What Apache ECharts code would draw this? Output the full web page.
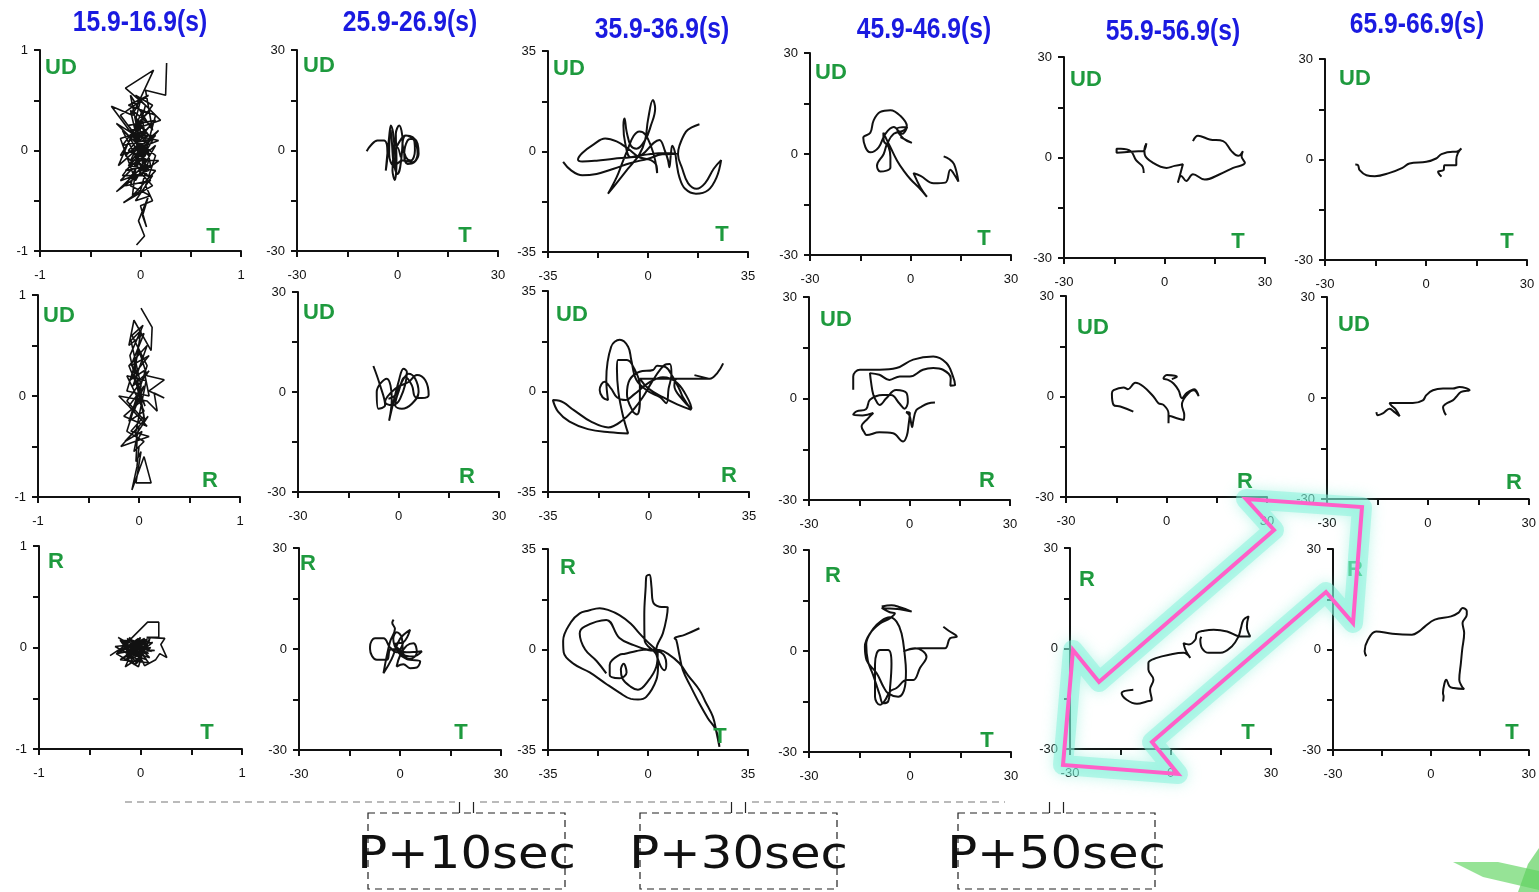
<!DOCTYPE html>
<html><head><meta charset="utf-8">
<script src="https://cdn.jsdelivr.net/npm/echarts@6/dist/echarts.min.js"></script>
<style>html,body{margin:0;padding:0;background:#fff;}#c{width:1539px;height:892px;}</style>
</head><body><div id="c"></div>
<script>
// ---------- DATA ----------
const titles = ['15.9-16.9(s)','25.9-26.9(s)','35.9-36.9(s)','45.9-46.9(s)','55.9-56.9(s)','65.9-66.9(s)'];
const axisRanges = [1,30,35,30,30,30];
const rowAxisNames = [['UD','T'],['UD','R'],['R','T']];
const markerTexts = ['P+10sec','P+30sec','P+50sec'];

// Row 1: T (x) vs UD (y)
const r1c1 = [[0.26,0.87],[0.25,0.55],[0.05,0.6],[0.12,0.2],[-0.1,0.55],[0.0,0.05],[-0.29,0.44],[-0.08,0.35],[0.13,0.8],[-0.15,0.62],[0.05,0.45],[-0.05,0.1],[0.15,0.3],[-0.12,0.25],[0.08,-0.05],[-0.24,0.27],[-0.05,0.15],[0.18,0.1],[-0.2,-0.05],[0.02,0.3],[0.1,-0.15],[-0.15,-0.2],[0.15,0.05],[-0.05,-0.3],[-0.2,0.12],[0.05,0.2],[-0.1,-0.1],[0.18,-0.1],[-0.24,-0.41],[-0.02,-0.2],[0.12,-0.35],[-0.17,-0.52],[0.0,-0.4],[0.08,-0.1],[-0.12,0.0],[0.1,0.25],[-0.08,0.4],[0.05,0.05],[-0.18,-0.25],[0.12,-0.25],[-0.05,-0.5],[0.1,-0.45],[-0.1,-0.35],[0.0,0.0],[0.15,0.15],[-0.12,0.15],[0.05,-0.15],[-0.05,0.25],[0.1,0.4],[0.0,0.5],[-0.05,0.3],[0.08,0.15],[-0.15,-0.05],[0.0,-0.2],[0.15,0.35],[-0.12,0.45],[0.08,0.55],[-0.2,0.35],[0.1,-0.05],[-0.18,0.2],[0.05,-0.25],[-0.1,0.4],[0.12,0.1],[-0.15,-0.35],[0.1,-0.3],[-0.05,-0.05],[0.18,0.2],[-0.22,-0.15],[0.02,0.4],[-0.08,-0.45],[0.15,-0.2],[-0.12,-0.15],[0.05,0.1],[-0.18,0.05],[0.12,0.45],[-0.05,0.55],[0.2,0.3],[-0.1,0.2],[0.08,-0.2],[-0.2,-0.3],[0.05,-0.05],[-0.08,0.15],[0.15,-0.05],[0.05,-0.35],[0.12,-0.5],[0.0,-0.55],[0.06,-0.76],[0.02,-0.65],[0.08,-0.45],[-0.02,-0.7],[0.04,-0.85],[-0.04,-0.94]];
const r1c2 = [[-9.2,-0.2],[-8,1.5],[-6,3],[-4,3],[-3,-1],[-3.5,-6],[-2.5,4],[-2,7.5],[-1,2],[-1.5,-6],[-0.8,-8.8],[-0.3,-3],[-0.5,5],[0.5,7.5],[1.5,3],[0.8,-5],[0,-7],[-1.2,-2],[0.8,3],[2.5,4.5],[4.5,4],[6,2],[6.3,-1],[5,-3.5],[3,-4],[2,-1],[3,3],[4.5,3.5],[5.2,0],[4,-3],[2.5,-2],[1.5,2],[2.5,4.5],[5,3],[6,-1],[4.5,-3.5],[1.5,-3],[-1,-4.5],[-2.5,-1],[-2,6],[-1,-5],[0,1],[1,-2]];
const r1c3 = [[-29.7,-3.6],[-27,-6.5],[-23,-8.3],[-18,-7.8],[-12,-6],[-6,-4],[0,-2.5],[5,-1],[10,-0.8],[6,-0.5],[0,-1],[-6,-2],[-12,-2.5],[-18,-3.2],[-23,-3.5],[-24.5,-2.8],[-23,-0.5],[-19,2.5],[-15,4.5],[-11,3.5],[-7,1],[-3,-2],[1,-3],[3,-5],[3.2,-7.5],[2.5,-3],[1,2],[-1,6],[-3,7],[-5,5.5],[-7,1],[-9,-4],[-11,-9],[-14,-14.7],[-11,-11],[-7,-6],[-3,-1],[-1,4],[0,11],[1.7,17.9],[2.5,15],[1,9],[-1,4],[-4,1],[-6,2],[-7.5,7],[-8.2,11.5],[-8.6,9],[-8,3],[-6,-2],[-2,-1],[2,3],[4,4],[6,0],[7,-3],[7.5,-5.5],[8,-1],[8.5,2],[9.5,-0.5],[10,-4],[11,-9],[13,-13],[16.8,-14.7],[21,-13.5],[24,-9],[25.6,-3],[23,-6],[20,-11],[17,-13],[14,-11],[12,-6],[10.5,-1],[11,2],[13.3,6.9],[15.5,8.5],[18,9.5]];
const r1c4 = [[-3,5],[0.4,3.3],[-2,4.5],[-4,7.5],[-1,8],[-2.5,6],[-5,8],[-7.5,6],[-9.5,2],[-12,0.5],[-14.1,4.8],[-12,6.3],[-11,10],[-9,12.5],[-6,13],[-3,11.3],[-1.1,8.3],[-2,7],[-5,6],[-7,3],[-8,0],[-10,-3.5],[-9,-5.2],[-6,-4],[-6,-1],[-6.5,2],[-8,4],[-8.1,6.3],[-6,2],[-4,-2],[-2,-5],[0,-7.5],[2.5,-10],[4.9,-12.7],[3,-10],[0.9,-5.7],[3,-6.5],[6.9,-8.7],[10.4,-8.5],[11.9,-4.7],[13,-6],[14.3,-8.2],[13,-3],[11.5,-1.5],[9.9,-0.7]];
const r1c5 = [[-6.2,-4.6],[-6.5,-2.8],[-8.5,-0.8],[-10,1.8],[-13,2.6],[-14.3,2.6],[-14.3,1.4],[-12,1.6],[-9,1.8],[-6.4,1.9],[-5.4,4.2],[-6,2.5],[-5.9,0.9],[-3.4,-1.6],[0.6,-3.1],[3,-2.5],[5.5,-2],[4,-7.5],[5,-5.5],[6.5,-7],[8.5,-5],[12,-6.6],[16.5,-5],[20.5,-3.1],[24,-1.6],[23,0.4],[23.4,1.9],[22,0.5],[20,1.9],[17.5,4.9],[13.5,5.4],[10,6.5],[8.5,4.9]];
const r1c6 = [[-21,-1.5],[-20.2,-1.7],[-19.7,-3.2],[-17.7,-4.7],[-15.2,-5],[-10.8,-4],[-7,-2.5],[-4.9,-1.2],[0.1,-0.7],[3,0.3],[4.6,1.6],[8,2.3],[9,2.3],[10.5,3.3],[9.5,2],[9,0],[9,-1.7],[7,-1.7],[5.5,-1.7],[5.2,-3.2],[3.6,-3.7],[4.6,-5.1]];

// Row 2: R (x) vs UD (y)
const r2c1 = [[0.02,0.87],[0.13,0.68],[0.12,0.45],[-0.05,0.75],[-0.1,0.5],[0.05,0.62],[-0.08,0.3],[0.1,0.4],[-0.1,0.15],[0.05,0.25],[0.1,0.0],[-0.12,0.05],[0.0,0.45],[0.08,0.2],[0.25,0.16],[0.1,0.05],[0.25,-0.02],[0.15,0.03],[0.18,-0.15],[0.08,-0.05],[-0.2,0.0],[-0.05,-0.15],[0.05,0.1],[-0.1,-0.1],[0.08,-0.3],[-0.15,-0.2],[0.02,-0.05],[-0.05,0.35],[0.05,-0.2],[-0.08,-0.35],[0.1,-0.4],[-0.18,-0.5],[0.0,-0.3],[-0.05,-0.55],[0.05,-0.45],[-0.12,-0.35],[0.02,0.1],[-0.08,0.55],[0.02,0.65],[-0.05,0.2],[0.06,-0.1],[-0.1,0.3],[0.08,0.5],[-0.06,0.1],[0.1,0.25],[-0.12,-0.05],[0.06,-0.25],[-0.09,0.4],[0.04,0.7],[-0.07,0.6],[0.08,0.3],[-0.1,-0.25],[0.05,-0.15],[-0.12,0.2],[0.07,0.15],[-0.04,-0.4],[0.09,-0.2],[-0.14,-0.45],[0.03,-0.35],[-0.02,-0.45],[-0.03,-0.65],[0.02,-0.55],[-0.03,-0.86],[0.12,-0.86],[0.05,-0.6],[-0.07,-0.93],[-0.02,-0.7],[0.0,-0.5]];
const r2c2 = [[-7.5,7.8],[-5.5,2],[-4,-4],[-6,-5],[-6.5,0],[-3.5,4],[-2,-2],[-2.8,-8.6],[-1.5,-3],[0,3],[1.5,7],[2.5,6],[0.5,-2],[-2,-4],[-4,-3],[-1,1],[3,3],[5.5,5.1],[8,3.5],[9,-0.9],[7,-1.8],[5,-1.5],[4,2],[2,4.5],[0,0],[-1,-4],[1,-5],[4,-3.5],[6,0],[5,4],[3,5.5],[1,3],[-1,-1],[-3,-2]];
const r2c3 = [[16,5.7],[21.3,4.4],[12,4.4],[4,4.4],[-3,4.4],[0,1],[5,-2],[10,-4.5],[14.9,-6.4],[12,-2],[10.9,0.5],[8.5,5],[6,8.5],[3,9],[1.6,7.5],[-3.1,6.9],[-6.6,4],[-7.5,-1],[-5.4,-7],[-4,-8],[-3,-3],[-3,2],[-5,8],[-7.5,11],[-10.6,11],[-11,8],[-10.5,0],[-9,-8],[-7.1,-14.6],[-13.5,-14.2],[-21.1,-13.1],[-27.5,-10.5],[-31.5,-7],[-33.3,-3],[-31,-3.2],[-26,-6.5],[-20,-10.5],[-14,-12.5],[-9,-10],[-5,-6],[-2,-2],[1,3],[4,7.5],[6.2,9.5],[7.4,9.6],[8,6],[7,1],[6.2,-4.1],[4,-2],[0,0],[-4.2,4],[-6,11],[-7.1,15.6],[-10,18],[-13,15.6],[-14.7,4],[-14.1,-3],[-16,-2],[-17,0.5],[-15.3,3.4],[-13,1],[-11,-2],[-8,-3],[-5,-1],[0,3],[5,5],[10,3],[14,-3],[15,-6],[12,-3],[9,2],[10,4.4],[18,4.4],[21.3,4.4],[24,6.5],[26,9.8]];
const r2c4 = [[-16.8,2.6],[-16.8,6.5],[-14.8,8.5],[-8.9,8.5],[-3.9,9],[1.1,11.5],[7.1,12.4],[11,10.5],[13,6.5],[13.6,4],[12.2,3.8],[12.3,6],[10,8.5],[7.1,9],[4,8.5],[0.1,6.5],[-2.9,6.5],[-6,5.5],[-9,7],[-11.8,7.5],[-11.5,5],[-10.8,1.1],[-9.5,-1.5],[-8.9,-1.9],[-7,0],[-4,2.5],[-0.9,1.6],[-0.5,-1],[-1.5,-3],[-3,-1.5],[-5.5,1],[-8,1],[-11.8,-0.4],[-13,-3.2],[-15.8,-3.8],[-16.8,-4.8],[-14,-5],[-10.8,-4.3],[-12.5,-6],[-14.3,-8.3],[-13.5,-10],[-12.8,-10.8],[-9,-10],[-4.9,-10.3],[-1.9,-12.7],[-0.8,-11],[-0.3,-8],[0.1,-4.3],[-1,-4],[0,-5],[0.8,-8.5],[1.1,-6.8],[2,-3.5],[3.6,-2.4],[5.5,-1.5],[7.6,-1.2]];
const r2c5 = [[-9.9,-4.5],[-13.8,-3],[-15.8,-2.5],[-16.3,0.9],[-15.8,1.9],[-12.8,2.7],[-11.5,2.2],[-9.3,4.1],[-6.9,3],[-3.9,0],[-2.4,-2],[-0.9,-2.5],[0.6,-5],[0.6,-8],[1,-5.8],[3.1,-6.5],[5.1,-7],[5.3,-5.5],[4.6,-2.5],[6.1,0.5],[8.1,1.9],[9.6,0.1],[8.3,2.2],[6,1],[4.6,-0.5],[3.6,1.9],[2.1,3.9],[0.6,4.9],[-0.9,5.4],[0.1,6.4],[3.1,5.9],[1.6,5.2]];
const r2c6 = [[-15.3,-4.2],[-14.9,-5.1],[-13.4,-4.6],[-11.4,-3.2],[-9.9,-4.2],[-8.4,-5.4],[-9.5,-3.5],[-10.9,-2.2],[-11.4,-1.5],[-8.4,-1.5],[-4.5,-1.5],[-1.5,-0.7],[-0.5,0.8],[1.5,2.3],[4.5,2.8],[7.4,2.8],[9.4,3.3],[12.4,2.3],[9.9,1.8],[8.4,0.3],[7.4,-0.7],[5.4,-1.7],[4.5,-2.7],[4.9,-4.2],[5.4,-5.1]];

// Row 3: T (x) vs R (y)
const r3c1 = [[-0.3,-0.08],[-0.12,0.04],[-0.22,0.1],[0.02,-0.08],[-0.15,-0.19],[-0.02,0.09],[-0.2,-0.04],[0.1,0.1],[-0.06,-0.17],[-0.18,0.05],[0.08,-0.06],[-0.13,0.09],[0.03,-0.15],[-0.25,0.01],[0.12,0.05],[-0.09,-0.12],[0.0,0.1],[-0.16,-0.1],[0.05,0.02],[-0.1,0.08],[0.06,-0.12],[-0.21,-0.02],[0.09,0.07],[-0.04,-0.16],[-0.19,0.08],[0.11,-0.04],[-0.07,0.06],[-0.14,-0.13],[0.04,0.09],[-0.23,-0.05],[0.07,0.25],[0.18,0.25],[0.18,0.1],[0.06,0.1],[0.24,0.09],[0.2,0.03],[0.26,-0.1],[0.19,-0.06],[0.15,-0.12],[0.04,-0.18],[-0.08,0.07],[0.09,-0.1],[-0.14,-0.02],[0.02,0.06],[-0.2,0.07],[-0.05,-0.14],[0.1,0.0],[-0.24,-0.06],[-0.02,-0.19],[0.06,0.08],[-0.12,-0.05],[0.14,-0.03],[-0.17,0.02],[0.0,-0.1],[-0.11,0.1],[0.08,-0.15],[-0.2,-0.12],[0.03,0.04]];
const r3c2 = [[-1.9,8.7],[-2.3,7.8],[-1.5,6],[-3,2],[-4.9,-7.2],[-2.5,-3],[0,3],[3,5.7],[1,2],[-1.5,1.5],[2,-1],[6.5,-0.7],[4,-2.2],[1,-1.5],[0.5,3.5],[-1,5],[-2,3],[-0.5,-1],[2,-3],[6,-3.7],[5,-5.5],[3,-5.7],[1,-4.5],[-1,-5.2],[0,-2],[2,1],[4,1.7],[5,-1],[3,-3],[1,-2],[-1,0],[-2.9,-0.2],[-3.9,-3.2],[-6.9,-3.2],[-8.9,0],[-8.9,0.7],[-7.4,3.2],[-4.9,3.2],[-3,0.5],[-1,-1],[1,2]];
const r3c3 = [[18,7.4],[12.8,5.1],[9.3,3.9],[9.9,3.3],[11,-2],[12.2,-7.2],[15,-13],[18,-18.8],[21,-24],[23.8,-28.1],[25,-33.9],[24,-29],[22.7,-23.4],[20,-18],[18,-14.1],[14,-9],[11,-4.8],[7,-1.5],[4,-0.2],[0,0],[-4,-0.5],[-8,-1.5],[-10,-1.9],[-13.4,-5.4],[-13.4,-8.9],[-10,-10],[-7.5,-8],[-8.5,-5],[-9.5,-7],[-9,-10],[-6,-13],[-3.5,-14],[0,-11],[2.9,-6],[3.4,-1.5],[2.9,-0.2],[-0.5,3],[-3,5.6],[-6,9],[-10,12],[-14,13.8],[-16.9,14.4],[-21,13.5],[-23.9,12.6],[-27,9.5],[-29.7,3],[-29.5,-1],[-26,-5],[-20.4,-8],[-14.6,-12],[-10,-15],[-6,-17.2],[-3.5,-17.4],[-0.6,-16.5],[2.9,-10.6],[3.5,-6],[3,-2],[-1.2,3.3],[-1.3,12],[-0.8,22],[-0.6,25.4],[0.5,26],[1.2,22],[1.7,16.7],[4,14.9],[6.9,14.7],[6.5,11],[5.2,5.6],[2.9,-0.2],[4,-4.8],[5.8,-7.2],[6.4,-5],[4.5,-1],[0,-0.2],[-5,1.5],[-10,4],[-14.6,10.3],[-22.2,8],[-23.9,5.6],[-22,0],[-18,-4],[-14.6,-8.3]];
const r3c4 = [[-8.4,13.2],[-5.5,13.6],[-3,13],[0.5,11.7],[-3,12.4],[-6,12.6],[-8.4,12.8],[-6,11.5],[-4.5,11.2],[-6,9.7],[-8.9,8.2],[-11.9,5.2],[-13.4,1.3],[-12.9,-2.7],[-9.9,-6.6],[-7.9,-10.6],[-6.5,-12.6],[-3.5,-13.6],[-1.5,-10.6],[-1.2,-6],[-1.5,-1.7],[-2.5,5.2],[-4,8.7],[-6,10],[-8.5,9],[-11,6.5],[-13,2],[-12.5,-3],[-11,-7],[-10,-10],[-9,-13],[-8,-15.5],[-6.5,-15],[-5.9,-10.6],[-5.5,-3.7],[-6.5,0.3],[-8.9,0.3],[-9.9,-0.7],[-10.4,-4],[-10.4,-9.6],[-10.4,-13.6],[-8.9,-16],[-7.4,-14.6],[-5.9,-12],[-4,-11],[-1,-8.6],[1,-8.6],[3,-5],[4.9,-1.7],[1.5,0.8],[-2,-0.2],[0,0.5],[3,0.8],[7,0.8],[10.4,0.8],[11.9,3.8],[13.9,4.3],[11.5,6],[9.9,7.2]];
const r3c5 = [[-11.1,-12.3],[-14.6,-13.3],[-13.1,-15.3],[-10,-16.5],[-7.1,-15.8],[-5.6,-15.3],[-6.1,-12.3],[-5.1,-9.3],[-6.6,-6.3],[-6.6,-4.3],[-4.1,-2.8],[-0.1,-1.8],[3.9,-1.3],[5.9,-2.8],[4.5,-0.5],[3.9,1.6],[5.5,1.2],[7.4,2.6],[7.9,4.6],[10,5.3],[12.9,5.6],[16.9,5.1],[20.8,3.6],[23.8,3.6],[22.8,6.6],[23.3,9.6],[21.8,8.6],[21,6],[20.3,3.6],[18.3,0.6],[14.9,-1.3],[11.4,-1.3],[9.4,0.1],[8.9,2.6],[9.2,3.5]];
const r3c6 = [[-19.8,-2],[-20.3,-0.5],[-19.3,2.9],[-16.8,5.4],[-11.8,4.7],[-5.8,4.4],[-3.5,5.5],[-1.8,6.9],[1.2,8.9],[6.2,9.9],[8.5,11],[9.7,12.4],[11,11.5],[11,10.4],[9.7,7.9],[10.2,4.9],[9.6,0],[9.2,-4],[8.7,-9],[9.5,-11],[10.2,-11.8],[7,-11.5],[5.7,-11],[4.7,-9],[4.2,-10],[3.7,-13],[3.9,-14],[3.7,-15.5]];

const traces = [
  [r1c1, r1c2, r1c3, r1c4, r1c5, r1c6],
  [r2c1, r2c2, r2c3, r2c4, r2c5, r2c6],
  [r3c1, r3c2, r3c3, r3c4, r3c5, r3c6]
];

// ---------- LAYOUT ----------
const gridBoxes = [
  [[40,50,201,201],[297,50,201,201],[548,51,200,201],[810,53,201,202],[1064,57,201,201],[1325,59,202,201]],
  [[38,295,202,202],[298,292,201,200],[548,291,201,201],[809,297,201,203],[1066,296,201,201],[1327,297,202,202]],
  [[39,546,203,203],[299,548,202,202],[548,549,200,201],[809,550,202,202],[1070,548,201,201],[1333,549,200,201]]
];
const titlePos = [[140,23],[410,23],[662,30],[924,30],[1173,32],[1417,25]];
const vLabelPos = [
  [[45,68],[303,66],[553,69],[815,73],[1070,80],[1339,79]],
  [[43,316],[303,313],[556,315],[820,320],[1077,328],[1338,325]],
  [[48,562],[300,564],[560,568],[825,576],[1079,580],[1347,570]]
];
const hLabelPos = [
  [[213,237],[465,236],[722,235],[984,239],[1238,242],[1507,242]],
  [[210,481],[467,477],[729,476],[987,481],[1245,482],[1514,483]],
  [[207,733],[461,733],[720,737],[987,741],[1248,733],[1512,733]]
];

const grids = [], xAxes = [], yAxes = [], series = [];
const graphics = [];
const axisFont = '"Liberation Sans", Arial, sans-serif';
const green = '#1e9a3e';

for (let r = 0; r < 3; r++) {
  for (let c = 0; c < 6; c++) {
    const idx = r * 6 + c;
    const b = gridBoxes[r][c];
    const R = axisRanges[c];
    grids.push({left: b[0], top: b[1], width: b[2], height: b[3], containLabel: false});
    const fmt = v => (Math.abs(v) < 1e-9 || Math.abs(Math.abs(v) - R) < 1e-9) ? String(Math.round(v)) : '';
    const common = {
      type: 'value', gridIndex: idx, min: -R, max: R, interval: R / 2,
      splitLine: {show: false},
      axisLine: {show: true, onZero: false, lineStyle: {color: '#111', width: 2}},
      axisTick: {show: true, inside: false, length: 6, lineStyle: {color: '#111', width: 2}},
      axisLabel: {show: true, formatter: fmt, color: '#111', fontSize: 13, fontFamily: axisFont, interval: 0, showMinLabel: true, showMaxLabel: true}
    };
    xAxes.push(Object.assign({}, common, {position: 'bottom', axisLabel: Object.assign({}, common.axisLabel, {margin: 18})}));
    yAxes.push(Object.assign({}, common, {position: 'left', axisLabel: Object.assign({}, common.axisLabel, {margin: 12})}));
    series.push({
      type: 'line', xAxisIndex: idx, yAxisIndex: idx, data: traces[r][c],
      showSymbol: false, symbol: 'none', smooth: c === 0 ? false : 0.4,
      lineStyle: {color: '#111', width: c === 0 ? 1.6 : 2},
      silent: true, animation: false, z: 3
    });
    graphics.push({type: 'text', x: vLabelPos[r][c][0], y: vLabelPos[r][c][1], z: 50,
      style: {text: rowAxisNames[r][0], fill: green, font: 'bold 22px ' + axisFont, textAlign: 'left', textVerticalAlign: 'middle'}});
    graphics.push({type: 'text', x: hLabelPos[r][c][0], y: hLabelPos[r][c][1], z: 50,
      style: {text: rowAxisNames[r][1], fill: green, font: 'bold 22px ' + axisFont, textAlign: 'center', textVerticalAlign: 'middle'}});
  }
}
for (let c = 0; c < 6; c++) {
  graphics.push({type: 'text', x: titlePos[c][0], y: titlePos[c][1], z: 50, scaleX: 0.85,
    style: {text: titles[c], fill: '#1a1ae0', font: 'bold 29px "Liberation Sans", Arial, sans-serif', textAlign: 'center', textVerticalAlign: 'middle'}});
}

// dashed connector lines and boxes
const dashSegs = [[125,455],[480,727],[752,1005]];
dashSegs.forEach(s => graphics.push({type: 'line', z: 40, shape: {x1: s[0], y1: 802, x2: s[1], y2: 802},
  style: {stroke: '#777', lineWidth: 1.2, lineDash: [7, 5]}}));
const boxes = [[368,813,197,76],[640,813,197,76],[958,813,197,76]];
boxes.forEach((bx, i) => {
  graphics.push({type: 'rect', z: 40, shape: {x: bx[0], y: bx[1], width: bx[2], height: bx[3]},
    style: {fill: 'none', stroke: '#222', lineWidth: 1.2, lineDash: [7, 5]}});
  const cx = bx[0] + bx[2] / 2;
  [-7, 7].forEach(d => graphics.push({type: 'line', z: 40, shape: {x1: cx + d, y1: 802, x2: cx + d, y2: 813},
    style: {stroke: '#222', lineWidth: 1.2}}));
  graphics.push({type: 'text', x: cx, y: 857, z: 45, scaleX: 1.13,
    style: {text: markerTexts[i], fill: '#111', font: '44px "DejaVu Sans", sans-serif', textAlign: 'center', textVerticalAlign: 'middle'}});
});

// pink double arrow with cyan glow
const arrowPts = [[1073,650],[1099,682],[1274,530],[1246,499],[1362,507],[1353,623],[1326,592],[1152,742],[1178,774],[1063,765]];
graphics.push({type: 'polygon', z: 60, shape: {points: arrowPts},
  style: {fill: 'none', stroke: 'rgba(130,242,218,0.5)', lineWidth: 20, lineJoin: 'round', shadowBlur: 14, shadowColor: 'rgba(100,235,205,0.8)'}});
graphics.push({type: 'polygon', z: 61, shape: {points: arrowPts},
  style: {fill: 'none', stroke: '#ff5fc8', lineWidth: 4, lineJoin: 'miter'}});

// leaf corner decoration
graphics.push({type: 'polygon', z: 60, shape: {points: [[1453,862],[1498,862],[1539,871],[1539,890],[1483,877]]},
  style: {fill: 'rgba(105,215,105,0.7)'}});
graphics.push({type: 'polygon', z: 60, shape: {points: [[1539,848],[1528,864],[1518,892],[1539,892]]},
  style: {fill: 'rgba(95,210,95,0.7)'}});

const chart = echarts.init(document.getElementById('c'), null, {renderer: 'canvas'});
chart.setOption({
  animation: false,
  backgroundColor: '#fff',
  grid: grids, xAxis: xAxes, yAxis: yAxes, series: series,
  graphic: graphics
});
</script></body></html>
